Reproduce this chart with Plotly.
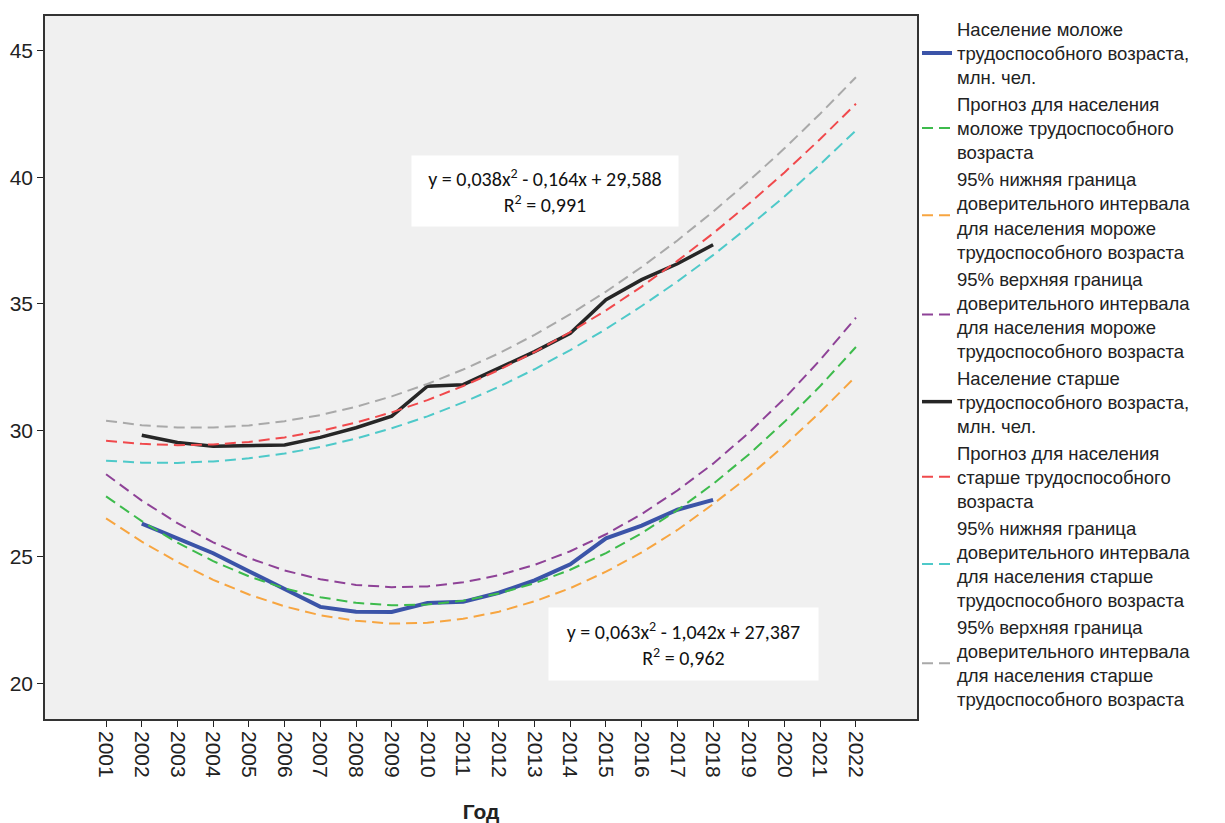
import plotly.graph_objects as go

# Годы: фактические наблюдения и горизонт прогноза
years_obs = list(range(2002, 2019))
years_all = list(range(2001, 2023))

# Население моложе трудоспособного возраста, млн чел.
young_obs = [26.31, 25.72, 25.14, 24.43, 23.73, 23.02, 22.83, 22.82, 23.17,
             23.22, 23.58, 24.07, 24.70, 25.73, 26.23, 26.86, 27.25]
# Население старше трудоспособного возраста, млн чел.
old_obs = [29.80, 29.52, 29.37, 29.38, 29.42, 29.72, 30.10, 30.56, 31.74,
           31.80, 32.46, 33.11, 33.83, 35.16, 35.95, 36.58, 37.33]

# Квадратичный тренд и 95% границы доверительного интервала (2001–2022)
young_trend = [27.387, 26.408, 25.555, 24.828, 24.227, 23.752, 23.403, 23.180,
               23.083, 23.112, 23.267, 23.548, 23.955, 24.488, 25.147, 25.932,
               26.843, 27.880, 29.043, 30.332, 31.747, 33.288]
young_low = [26.52, 25.60, 24.79, 24.09, 23.51, 23.04, 22.69, 22.47, 22.36, 22.39,
             22.55, 22.83, 23.24, 23.76, 24.41, 25.17, 26.06, 27.08, 28.18, 29.40,
             30.72, 32.13]
young_up = [28.26, 27.22, 26.33, 25.57, 24.95, 24.46, 24.11, 23.89, 23.80, 23.83,
            23.99, 24.27, 24.68, 25.22, 25.89, 26.69, 27.62, 28.68, 29.90, 31.26,
            32.78, 34.45]

old_trend = [29.588, 29.462, 29.412, 29.438, 29.540, 29.718, 29.972, 30.302,
             30.708, 31.190, 31.748, 32.382, 33.092, 33.878, 34.740, 35.678,
             36.692, 37.782, 38.948, 40.190, 41.508, 42.902]
old_low = [28.80, 28.72, 28.71, 28.77, 28.89, 29.08, 29.34, 29.67, 30.08, 30.55,
           31.10, 31.72, 32.41, 33.17, 34.00, 34.91, 35.88, 36.92, 38.05, 39.24,
           40.51, 41.85]
old_up = [30.38, 30.20, 30.11, 30.11, 30.19, 30.36, 30.60, 30.93, 31.34, 31.83,
          32.40, 33.04, 33.77, 34.59, 35.48, 36.45, 37.50, 38.64, 39.85, 41.14,
          42.51, 43.95]

y_ticks = [20, 25, 30, 35, 40, 45]

DASH = "11px,6px"

series = [
    ("Население моложе<br>трудоспособного возраста,<br>млн. чел.",
     years_obs, young_obs, "#3b54a8", 4, "solid"),
    ("Прогноз для населения<br>моложе трудоспособного<br>возраста",
     years_all, young_trend, "#3dbb4c", 2, DASH),
    ("95% нижняя граница<br>доверительного интервала<br>для населения мороже<br>трудоспособного возраста",
     years_all, young_low, "#f7a540", 2, DASH),
    ("95% верхняя граница<br>доверительного интервала<br>для населения мороже<br>трудоспособного возраста",
     years_all, young_up, "#8e4297", 2, DASH),
    ("Население старше<br>трудоспособного возраста,<br>млн. чел.",
     years_obs, old_obs, "#262626", 3.5, "solid"),
    ("Прогноз для населения<br>старше трудоспособного<br>возраста",
     years_all, old_trend, "#f0494c", 2, DASH),
    ("95% нижняя граница<br>доверительного интервала<br>для населения старше<br>трудоспособного возраста",
     years_all, old_low, "#4ec9c9", 2, DASH),
    ("95% верхняя граница<br>доверительного интервала<br>для населения старше<br>трудоспособного возраста",
     years_all, old_up, "#a9a9a9", 2, DASH),
]

fig = go.Figure()
for name, xs, ys, color, width, dash in series:
    fig.add_trace(go.Scatter(
        x=xs, y=ys, mode="lines", name=name,
        line=dict(color=color, width=width, dash=dash),
    ))

tick_font = dict(family="Liberation Sans, Arial, sans-serif", size=21, color="#222222")

fig.update_layout(
    width=1225, height=823,
    margin=dict(l=45, r=308, t=10, b=104),
    paper_bgcolor="white",
    plot_bgcolor="#f0f0f0",
    showlegend=True,
    legend=dict(
        x=1.0, xanchor="left", y=1.008, yanchor="top",
        font=dict(family="Liberation Sans, Arial, sans-serif", size=18.5, color="#222222"),
        bgcolor="rgba(0,0,0,0)",
        itemwidth=30,
        tracegroupgap=0,
        maxheight=815,
    ),
    xaxis=dict(
        range=[1999.29, 2023.71],
        tickmode="array", tickvals=years_all, ticktext=[str(y) for y in years_all],
        tickangle=90, ticks="outside", ticklen=6, tickcolor="#222222",
        showgrid=False, zeroline=False, automargin=False,
        showline=True, linecolor="#333333", linewidth=1.5, mirror=True,
        tickfont=tick_font,
        title=dict(text="<b>Год</b>", font=dict(family="Liberation Sans, Arial, sans-serif",
                                               size=21, color="#222222"), standoff=28),
    ),
    yaxis=dict(
        range=[18.59, 46.37],
        tickmode="array", tickvals=y_ticks,
        ticks="outside", ticklen=6, tickcolor="#222222",
        showgrid=False, zeroline=False, automargin=False,
        showline=True, linecolor="#333333", linewidth=1.5, mirror=True,
        tickfont=tick_font,
    ),
)

eq_font = dict(family="Carlito, Liberation Sans, sans-serif", size=20, color="#111111")
fig.add_annotation(
    x=2013.29, y=39.44, xref="x", yref="y",
    text="y = 0,038x<sup>2</sup> - 0,164x + 29,588<br>R<sup>2</sup> = 0,991",
    showarrow=False, bgcolor="white", font=eq_font,
    width=262, height=66, borderpad=2, align="center",
)
fig.add_annotation(
    x=2017.16, y=21.57, xref="x", yref="y",
    text="y = 0,063x<sup>2</sup> - 1,042x + 27,387<br>R<sup>2</sup> = 0,962",
    showarrow=False, bgcolor="white", font=eq_font,
    width=265, height=68, borderpad=2, align="center",
)

fig.write_html("out.html")
